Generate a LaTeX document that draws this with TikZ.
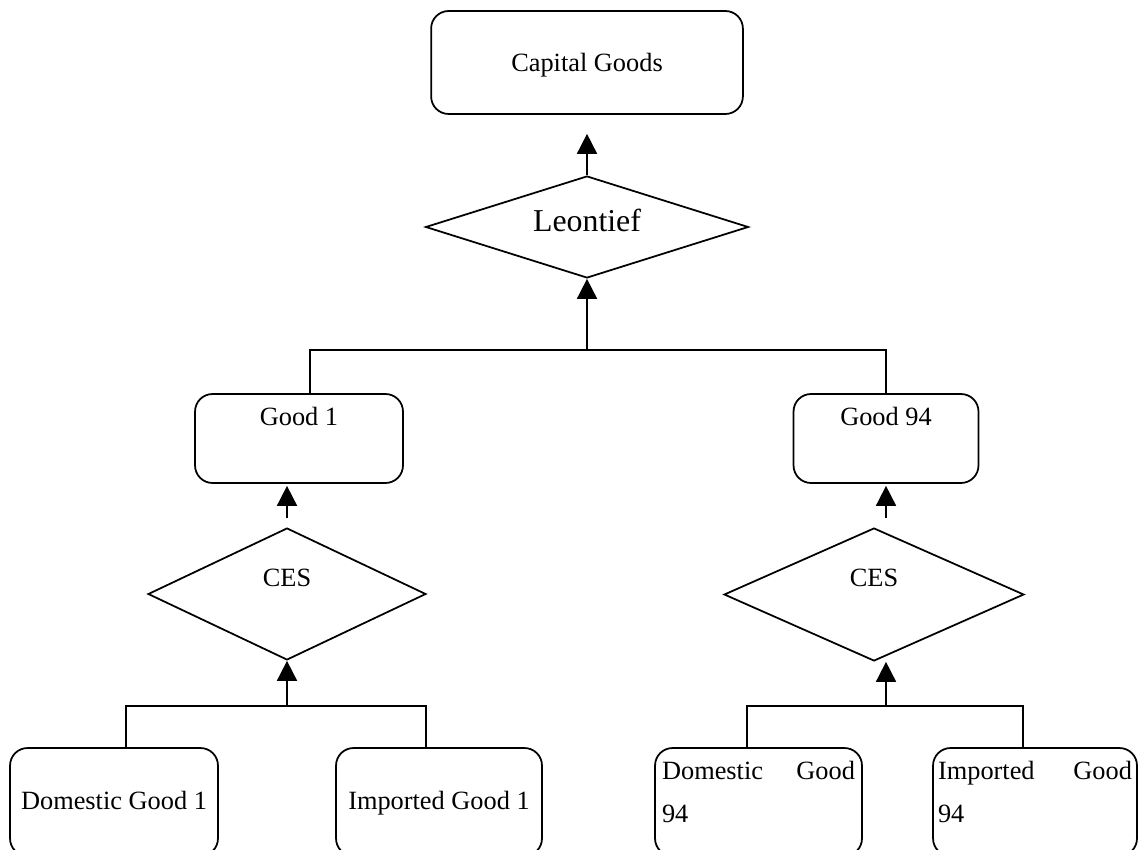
\documentclass[tikz,border=0pt]{standalone}
\usepackage{fontspec}
\setmainfont{Liberation Serif}
\usetikzlibrary{shapes.geometric,arrows.meta}

\begin{document}
\begin{tikzpicture}[x=0.016cm, y=-0.016cm, line width=0.8pt,
  every node/.style={font=\fontsize{12}{14}\selectfont},
  goodbox/.style={draw, rounded corners=0.28cm, inner xsep=0pt, inner ysep=0pt},
  aggbox/.style={draw, diamond, aspect=3, inner sep=0pt},
  up/.style={-{Triangle[length=0.32cm,width=0.32cm]}}]
  \useasboundingbox (0,0) rectangle (1138,849);
  \clip (0,0) rectangle (1138,849);
  % top of the tree
  \node[goodbox, minimum width=4.99cm, minimum height=1.648cm, text height=0.29cm, text depth=0.016cm] (cap) at (587,62.5) {Capital Goods};
  \node[aggbox, font=\fontsize{14.5}{17}\selectfont, minimum width=5.168cm, minimum height=1.632cm, text height=0.35cm, text depth=0.19cm] (leon) at (587,227) {Leontief};
  \node[goodbox, minimum width=3.328cm, text height=0.496cm, text depth=0.928cm] (good1) at (299,438.5) {Good 1};
  \node[goodbox, minimum width=2.96cm, text height=0.496cm, text depth=0.928cm] (good94) at (886,438.5) {Good 94};
  % CES nests
  \node[aggbox, minimum width=4.448cm, minimum height=2.112cm, text height=0.29cm, text depth=0.544cm] (cesL) at (287,594) {CES};
  \node[aggbox, minimum width=4.8cm, minimum height=2.128cm, text height=0.29cm, text depth=0.544cm] (cesR) at (874,594.5) {CES};
  % bottom row
  \node[goodbox, minimum width=3.328cm, text height=0.976cm, text depth=0.752cm] (dom1) at (114,802) {Domestic Good 1};
  \node[goodbox, minimum width=3.296cm, text height=0.976cm, text depth=0.752cm] (imp1) at (439,802) {Imported Good 1};
  \node[goodbox, font=\fontsize{12}{20}\selectfont, minimum width=3.312cm, text width=3.088cm, align=left, text height=0.496cm, text depth=1.232cm] (dom94) at (758.5,802) {Domestic\hfill Good\\94};
  \node[goodbox, font=\fontsize{12}{20}\selectfont, minimum width=3.264cm, text width=3.104cm, align=left, text height=0.496cm, text depth=1.232cm] (imp94) at (1035,802) {Imported\hfill Good\\94};

  % bus lines
  \coordinate (topL) at (310,350);
  \coordinate (topM) at (587,350);
  \coordinate (topR) at (886,350);
  \coordinate (lowL1) at (126,706);
  \coordinate (lowLm) at (287,706);
  \coordinate (lowL2) at (426,706);
  \coordinate (lowR1) at (747,706);
  \coordinate (lowRm) at (886,706);
  \coordinate (lowR2) at (1023,706);

  \draw[up, shorten >=0.304cm] (leon.north) -- (leon.north |- cap.south);
  \draw[up] (topM) -- (topM |- leon.south);
  \draw (good1.north -| topL) -- (topL) -- (topR) -- (good94.north -| topR);
  \draw[up, shorten <=0.144cm, shorten >=0.032cm] (cesL.north) -- (cesL.north |- good1.south);
  \draw[up, shorten <=0.144cm, shorten >=0.032cm] (cesR.north -| good94.south) -- (good94.south);
  \draw[up] (lowLm) -- (cesL.south);
  \draw (dom1.north -| lowL1) -- (lowL1) -- (lowL2) -- (imp1.north -| lowL2);
  \draw[up] (lowRm) -- (cesR.south -| lowRm);
  \draw (dom94.north -| lowR1) -- (lowR1) -- (lowR2) -- (imp94.north -| lowR2);
\end{tikzpicture}
\end{document}
